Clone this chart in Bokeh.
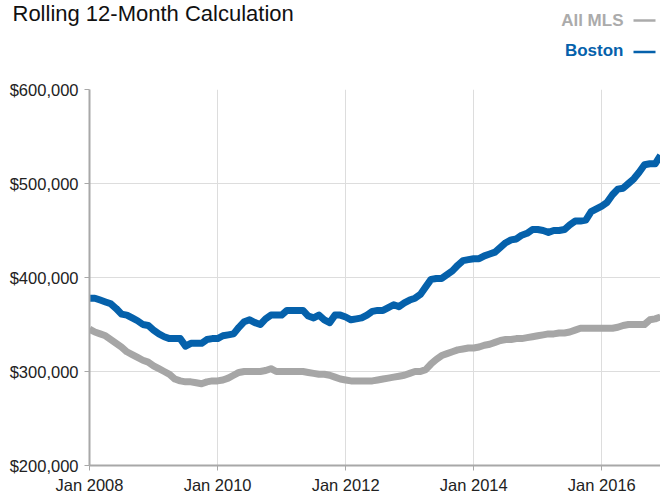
import numpy as np
import pandas as pd
from bokeh.plotting import figure
from bokeh.layouts import column
from bokeh.models import Range1d, FixedTicker, NumeralTickFormatter
from bokeh.core.properties import value
from bokeh.embed import file_html
from bokeh.resources import INLINE

# ---- data (values in $ thousands, monthly from Jan 2008) ----
months = pd.date_range("2008-01-01", periods=108, freq="MS").strftime("%b %Y").tolist()

boston_k = [378, 378, 376, 374, 372, 367, 361, 360, 357, 354, 350, 349,
            344, 340, 337, 335, 335, 335, 327, 330, 330, 330, 334, 335,
            335, 338, 339, 340, 347, 353, 355, 352, 350, 356, 360, 360,
            360, 365, 365, 365, 365, 359, 357, 360, 355, 352, 360, 360,
            358, 355, 356, 357, 360, 364, 365, 365, 368, 371, 369, 373,
            376, 378, 382, 390, 398, 399, 399, 403, 407, 413, 418, 419,
            420, 420, 423, 425, 427, 432, 437, 440, 441, 445, 447, 451,
            451, 450, 448, 450, 450, 451, 456, 460, 460, 461, 470, 473,
            476, 480, 488, 494, 495, 500, 505, 512, 520, 521, 521, 530]

allmls_k = [345, 342, 340, 338, 334, 330, 326, 321, 318, 315, 312, 310,
            306, 303, 300, 297, 292, 290, 289, 289, 288, 287, 289, 290,
            290, 291, 293, 296, 299, 300, 300, 300, 300, 301, 303, 300,
            300, 300, 300, 300, 300, 299, 298, 297, 297, 296, 294, 292,
            291, 290, 290, 290, 290, 290, 291, 292, 293, 294, 295, 296,
            298, 300, 300, 302, 308, 313, 317, 319, 321, 323, 324, 325,
            325, 326, 328, 329, 331, 333, 334, 334, 335, 335, 336, 337,
            338, 339, 340, 340, 341, 341, 342, 344, 346, 346, 346, 346,
            346, 346, 346, 347, 349, 350, 350, 350, 350, 355, 356, 358]

x_tick_months = [0, 24, 48, 72, 96]
x_tick_labels = ["Jan 2008", "Jan 2010", "Jan 2012", "Jan 2014", "Jan 2016"]
y_ticks = [200000, 300000, 400000, 500000, 600000]

title_text = "Rolling 12-Month Calculation"
series_names = ["All MLS", "Boston"]
series_colors_text = ["#ABABAB", "#0561AB"]

BLUE = "#0561AB"
GREY = "#A6A6A6"
FONT = "Liberation Sans"

W = 660
HEAD_H = 70
MAIN_H = 496 - HEAD_H

# ---- header: title and legend (page-pixel coordinates) ----
head = figure(width=W, height=HEAD_H, output_backend="svg", toolbar_location=None,
              x_range=Range1d(0, W), y_range=Range1d(HEAD_H, 0),
              x_axis_location=None, y_axis_location=None,
              min_border=0, min_border_left=0, min_border_right=0,
              min_border_top=0, min_border_bottom=0)
head.outline_line_color = None
head.grid.visible = False
if "frame_align" in head.properties():
    head.frame_align = False

head.text(x=[12], y=[13], text=[title_text], text_font=value(FONT),
          text_font_size="22px", text_color="#111111",
          text_align="left", text_baseline="alphabetic")
head.text(x=[623, 623], y=[20, 50.3], text=series_names, text_font=value(FONT),
          text_font_size="17px", text_font_style="bold", text_color=series_colors_text,
          text_align="right", text_baseline="alphabetic")
# legend swatches (short dashes after the names)
head.segment(x0=[633, 633], y0=[20, 51.5], x1=[655, 655], y1=[20, 51.5],
             line_color=series_colors_text, line_width=2.5)

# ---- main chart ----
x = np.arange(len(boston_k))
p = figure(width=W, height=MAIN_H, output_backend="svg", toolbar_location=None,
           x_range=Range1d(0, len(boston_k) - 1), y_range=Range1d(200000, 600000),
           min_border_left=89, min_border_right=0, min_border_top=19, min_border_bottom=27)
p.outline_line_color = None
if "frame_align" in p.properties():
    p.frame_align = False

p.line(x, np.array(allmls_k) * 1000, line_color=GREY, line_width=7, line_join="round")
p.line(x, np.array(boston_k) * 1000, line_color=BLUE, line_width=7, line_join="round")

p.xaxis.ticker = FixedTicker(ticks=x_tick_months)
p.xaxis.major_label_overrides = {t: l for t, l in zip(x_tick_months, x_tick_labels)}
p.yaxis.ticker = FixedTicker(ticks=y_ticks)
p.yaxis.formatter = NumeralTickFormatter(format="$0,0")
for ax in (p.xaxis[0], p.yaxis[0]):
    ax.axis_line_color = "#A8A8A8"
    ax.axis_line_width = 2
    ax.major_tick_line_color = "#A8A8A8"
    ax.major_tick_in = 0
    ax.major_tick_out = 5
    ax.minor_tick_line_color = None
    ax.major_label_text_font = FONT
    ax.major_label_text_font_size = "16.5px"
    ax.major_label_text_color = "#222222"
p.yaxis.major_label_standoff = 6
p.xaxis.major_label_standoff = 5

p.xgrid.ticker = FixedTicker(ticks=x_tick_months)
p.ygrid.ticker = FixedTicker(ticks=y_ticks)
p.grid.grid_line_color = "#DDDDDD"
p.grid.grid_line_width = 1

layout = column(head, p, spacing=0)
open("out.html", "w").write(file_html(layout, INLINE))
